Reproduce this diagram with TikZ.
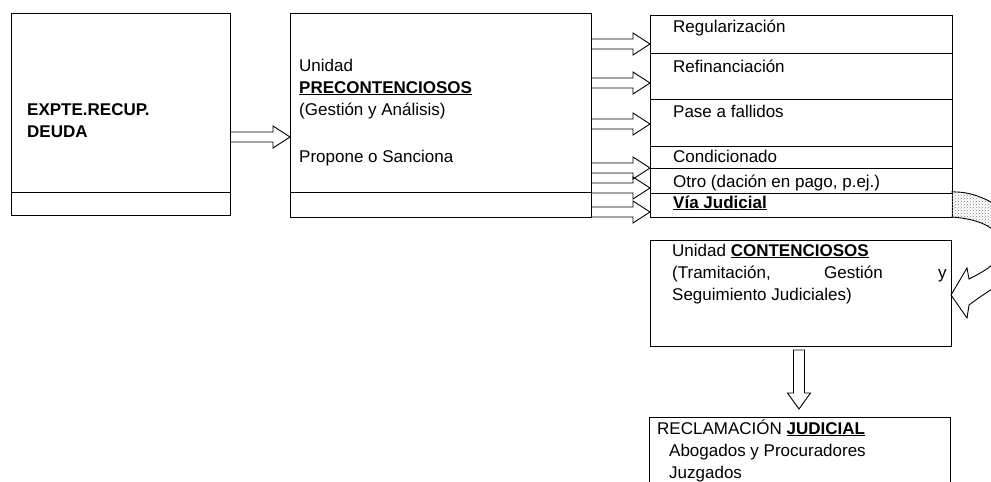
\documentclass[tikz,border=0pt]{standalone}
\usepackage{fontspec}
\setmainfont{Liberation Sans}
\usetikzlibrary{calc,patterns}
\newcommand\harr[2]{\draw[blockarr] let \p1=(#1), \p2=(#2) in
  (\x1,\y1+5pt) -- (\x2-17pt,\y1+5pt) -- (\x2-17pt,\y1+11pt) -- (\x2,\y2) --
  (\x2-17pt,\y1-11pt) -- (\x2-17pt,\y1-5pt) -- (\x1,\y1-5pt);}
\newcommand\varr[2]{\draw[blockarr] let \p1=(#1), \p2=(#2) in
  (\x1-5.5pt,\y1) -- (\x1-5.5pt,\y2+16pt) -- (\x1-11.5pt,\y2+16pt) -- (\x2,\y2) --
  (\x1+11.5pt,\y2+16pt) -- (\x1+5.5pt,\y2+16pt) -- (\x1+5.5pt,\y1) -- cycle;}
\newcommand\curvpath{(951,192) .. controls (990,190) and (1030,225) .. (1025,258)
  .. controls (1025,272) and (995,285) .. (969,305) -- (967,318) -- (951,295) -- (967,268) -- (969,279)
  .. controls (985,271) and (1000,262) .. (1002,250)
  .. controls (1004,232) and (985,219) .. (951,217)}
\begin{document}
\begin{tikzpicture}[x=1pt,y=-1pt,
  font=\fontsize{17}{20}\selectfont,
  box/.style={draw, line width=0.9pt, inner sep=0pt, anchor=north west},
  txt/.style={anchor=base west, inner sep=0pt},
  blockarr/.style={draw, line width=0.9pt, line join=miter},
  divider/.style={draw, line width=0.9pt}]

\useasboundingbox (0,0) rectangle (991,482);
\clip (0,0) rectangle (991,482);

% boxes
\node[box, minimum width=219pt, minimum height=202pt] (b1) at (11,13) {};
\node[box, minimum width=301pt, minimum height=204pt] (b2) at (290,13) {};
\node[box, minimum width=302pt, minimum height=38pt] (r1) at (650,15) {};
\node[box, minimum width=302pt, minimum height=46pt] (r2) at (650,53) {};
\node[box, minimum width=302pt, minimum height=47pt] (r3) at (650,99) {};
\node[box, minimum width=302pt, minimum height=22pt] (r4) at (650,146) {};
\node[box, minimum width=302pt, minimum height=25pt] (r5) at (650,168) {};
\node[box, minimum width=302pt, minimum height=24pt] (r6) at (650,193) {};
\node[box, minimum width=301pt, minimum height=106pt] (b4) at (650,240) {};
\node[box, minimum width=301pt, minimum height=90pt] (b5) at (649,417) {};

\path[divider] ($(b1.south west)+(0,-23)$) -- ($(b1.south east)+(0,-23)$);
\path[divider] ($(b2.south west)+(0,-25)$) -- ($(b2.south east)+(0,-25)$);

% texts
\node[txt] (t1) at (27,115) {\textbf{EXPTE.RECUP.}};
\node[txt] (t2) at (27,137) {\textbf{DEUDA}};
\node[txt] (u1) at (299,71) {Unidad};
\node[txt] (u2) at (299,93) {\underline{\textbf{PRECONTENCIOSOS}}};
\node[txt] (u3) at (299,115) {(Gestión y Análisis)};
\node[txt] (u4) at (299,162) {Propone o Sanciona};
\node[txt] (x1) at (673,32) {Regularización};
\node[txt] (x2) at (673,72) {Refinanciación};
\node[txt] (x3) at (673,117) {Pase a fallidos};
\node[txt] (x4) at (673,162) {Condicionado};
\node[txt] (x5) at (673,187) {Otro (dación en pago, p.ej.)};
\node[txt] (x6) at (673,208) {\underline{\textbf{Vía Judicial}}};
\node[txt] (c1) at (672,256) {Unidad \underline{\textbf{CONTENCIOSOS}}};
\node[txt] (c2) at (672,278) {(Tramitación,};
\node[txt] (c3) at (824,278) {Gestión};
\node[txt] (c4) at (938,278) {y};
\node[txt] (c5) at (672,300) {Seguimiento Judiciales)};
\node[txt] (j1) at (657,434) {RECLAMACIÓN \underline{\textbf{JUDICIAL}}};
\node[txt] (j2) at (669,456) {Abogados y Procuradores};
\node[txt] (j3) at (669,478) {Juzgados};

% arrows
\coordinate (p0) at (290,137);
\harr{b1.east |- p0}{p0}
\coordinate (q1) at (650,44);
\coordinate (q2) at (650,83);
\coordinate (q3) at (650,124);
\coordinate (q4) at (650,168);
\coordinate (q5) at (650,188);
\coordinate (q6) at (650,212);
\harr{b2.east |- q1}{q1}
\harr{b2.east |- q2}{q2}
\harr{b2.east |- q3}{q3}
\harr{b2.east |- q4}{q4}
\harr{b2.east |- q5}{q5}
\harr{b2.east |- q6}{q6}

\coordinate (va) at (799,350);
\coordinate (vb) at (799,409);
\varr{va}{vb}

% curved arrow
\begin{scope}
  \clip (940,185) rectangle (1000,255);
  \fill[pattern=crosshatch dots, pattern color=gray] \curvpath -- cycle;
\end{scope}
\draw[line width=0.9pt, line join=miter] \curvpath;
\end{tikzpicture}
\end{document}
